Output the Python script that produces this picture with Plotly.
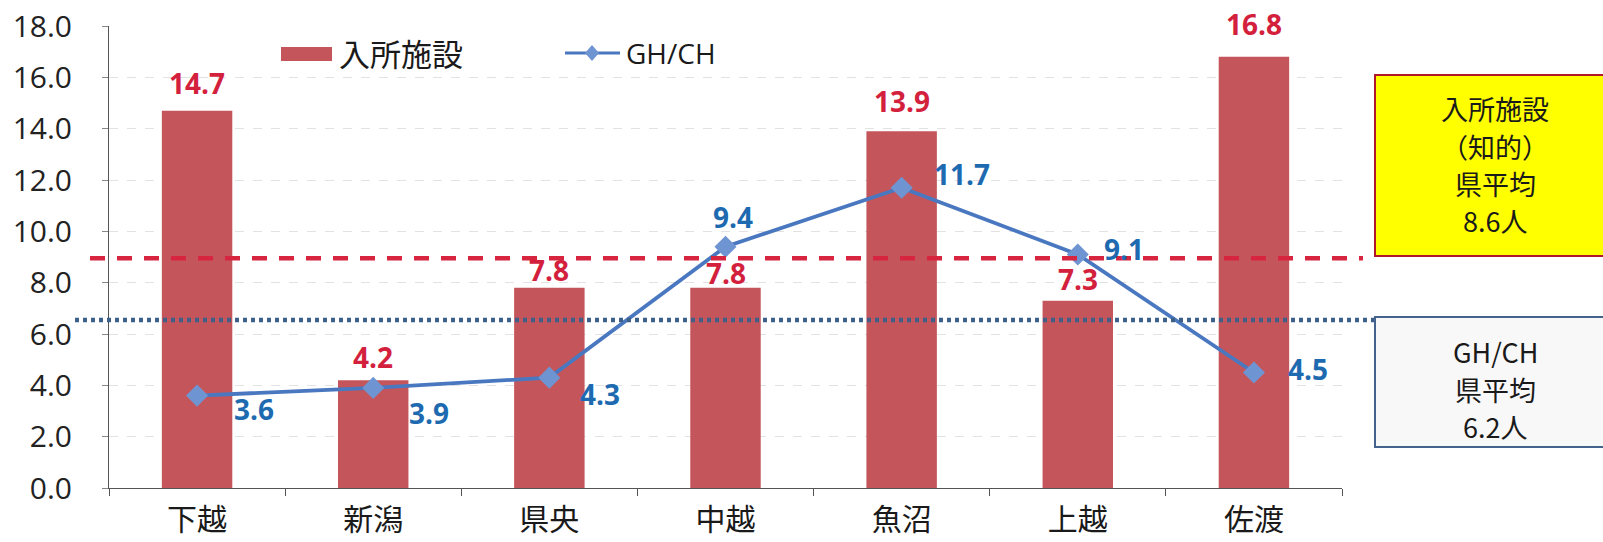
import plotly.graph_objects as go

# ---------------- data ----------------
regions = ["下越", "新潟", "県央", "中越", "魚沼", "上越", "佐渡"]
facility = [14.7, 4.2, 7.8, 7.8, 13.9, 7.3, 16.8]      # 入所施設
ghch = [3.6, 3.9, 4.3, 9.4, 11.7, 9.1, 4.5]            # GH/CH
facility_box_lines = ["入所施設", "（知的）", "県平均", "8.6人"]
ghch_box_lines = ["GH/CH", "県平均", "6.2人"]
# where the two average lines sit on the value axis in the picture
facility_line_level = 8.95
ghch_line_level = 6.55
y_ticks = [0, 2, 4, 6, 8, 10, 12, 14, 16, 18]

# ---------------- styling / label nudges (pixels) ----------------
red_label_up = [28, 23, 18, 15, 30, 22, 33]
blue_label_dx = [57, 56, 51, 7, 60, 46, 54]
blue_label_dy = [13, 25, 16, -30, -14, -5, -4]   # positive = downward
facility_box_line_y = [109, 146, 183, 220]
ghch_box_line_y = [351, 389, 426]

W, H = 1603, 542
L, R, T, B = 109, 1603 - 1342, 26, 542 - 488
PW, PH = W - L - R, H - T - B


def px_x(p):
    return (p - L) / PW


def px_y(p):
    return (H - B - p) / PH


BAR_COLOR = "#C4565B"
LINE_COLOR = "#4A78C0"
MARKER_COLOR = "#6F94D2"
RED_TEXT = "#D3213D"
BLUE_TEXT = "#1E6AB0"
NUM_FONT = "Open Sans"
JP_FONT = "Noto Sans CJK JP"

fig = go.Figure()
fig.add_trace(go.Bar(
    x=regions, y=facility, name="入所施設",
    marker=dict(color=BAR_COLOR, line=dict(width=0)),
    width=0.4, showlegend=False, hoverinfo="x+y",
))
fig.add_trace(go.Scatter(
    x=regions, y=ghch, name="GH/CH", mode="lines+markers",
    line=dict(color=LINE_COLOR, width=3.8),
    marker=dict(symbol="diamond", size=17, color=MARKER_COLOR,
                line=dict(width=0)),
    showlegend=False,
))

annotations = []
for i, (r, v) in enumerate(zip(regions, facility)):
    annotations.append(dict(
        x=r, y=v, xref="x", yref="y", text=f"<b>{v:.1f}</b>",
        showarrow=False, xanchor="center", yanchor="middle",
        yshift=red_label_up[i],
        font=dict(family=NUM_FONT, size=28, color=RED_TEXT),
    ))
for i, (r, v) in enumerate(zip(regions, ghch)):
    annotations.append(dict(
        x=r, y=v, xref="x", yref="y", text=f"<b>{v:.1f}</b>",
        showarrow=False, xanchor="center", yanchor="middle",
        xshift=blue_label_dx[i], yshift=-blue_label_dy[i],
        font=dict(family=NUM_FONT, size=28, color=BLUE_TEXT),
    ))

# legend (manual)
annotations.append(dict(
    x=px_x(337), y=px_y(53), xref="paper", yref="paper", text="入所施設",
    showarrow=False, xanchor="left", yanchor="middle",
    font=dict(family=JP_FONT, size=31, color="#1a1a1a"),
))
annotations.append(dict(
    x=px_x(624), y=px_y(53), xref="paper", yref="paper", text="GH/CH",
    showarrow=False, xanchor="left", yanchor="middle",
    font=dict(family=NUM_FONT, size=28, color="#1a1a1a"),
))

# right side boxes text, one annotation per line
for txt, yy in zip(facility_box_lines, facility_box_line_y):
    annotations.append(dict(
        x=px_x(1495), y=px_y(yy), xref="paper", yref="paper", text=txt,
        showarrow=False, xanchor="center", yanchor="middle",
        font=dict(family=JP_FONT, size=27, color="#1a1a1a"),
    ))
for txt, yy in zip(ghch_box_lines, ghch_box_line_y):
    annotations.append(dict(
        x=px_x(1495), y=px_y(yy), xref="paper", yref="paper", text=txt,
        showarrow=False, xanchor="center", yanchor="middle",
        font=dict(family=JP_FONT, size=27, color="#1a1a1a"),
    ))

dx = 7 / PW
dy = 8 / PH
cx, cy = px_x(592), px_y(53)
shapes = [
    # average lines
    dict(type="line", xref="paper", yref="y", x0=px_x(90), x1=px_x(1363),
         y0=facility_line_level, y1=facility_line_level,
         line=dict(color="#D7243F", width=4.5, dash="15px,12px")),
    dict(type="line", xref="paper", yref="y", x0=px_x(75), x1=px_x(1375),
         y0=ghch_line_level, y1=ghch_line_level,
         line=dict(color="#3E5F88", width=4.5, dash="4px,4px")),
    # boxes
    dict(type="rect", xref="paper", yref="paper", x0=px_x(1375), x1=px_x(1612),
         y0=px_y(256), y1=px_y(75), fillcolor="#FFFF00",
         line=dict(color="#B0182A", width=2)),
    dict(type="rect", xref="paper", yref="paper", x0=px_x(1375), x1=px_x(1612),
         y0=px_y(447), y1=px_y(317), fillcolor="#F8F8F8",
         line=dict(color="#44648E", width=2)),
    # legend symbols
    dict(type="rect", xref="paper", yref="paper", x0=px_x(281), x1=px_x(332),
         y0=px_y(61), y1=px_y(47), fillcolor=BAR_COLOR, line=dict(width=0)),
    dict(type="line", xref="paper", yref="paper", x0=px_x(565), x1=px_x(620),
         y0=cy, y1=cy, line=dict(color=LINE_COLOR, width=3)),
    dict(type="path", xref="paper", yref="paper",
         path=f"M {cx-dx},{cy} L {cx},{cy+dy} L {cx+dx},{cy} L {cx},{cy-dy} Z",
         fillcolor=MARKER_COLOR, line=dict(width=0)),
]

fig.update_layout(
    width=W, height=H,
    margin=dict(l=L, r=R, t=T, b=B, pad=0, autoexpand=False),
    paper_bgcolor="white", plot_bgcolor="white",
    bargap=0.6,
    annotations=annotations, shapes=shapes,
    showlegend=False,
)
fig.update_xaxes(
    type="category", categoryorder="array", categoryarray=regions,
    automargin=False,
    showline=True, linecolor="#555555", linewidth=1,
    ticks="outside", tickson="boundaries", ticklen=7, tickcolor="#555555",
    tickfont=dict(family=JP_FONT, size=30, color="#1a1a1a"),
    ticklabelstandoff=5, showgrid=False,
)
fig.update_yaxes(
    range=[0, 18], tickvals=y_ticks, tickformat=".1f",
    automargin=False,
    showline=True, linecolor="#555555", linewidth=1,
    ticks="outside", ticklen=6, tickcolor="#888888",
    tickfont=dict(family=NUM_FONT, size=30, color="#222222"),
    ticklabelstandoff=24,
    showgrid=True, gridcolor="#E2E2E2", gridwidth=1, griddash="dash",
    zeroline=False,
)

fig.write_html(
    "out.html",
    config={"displayModeBar": False},
    post_script="document.body.style.margin='0';document.body.style.overflow='hidden';",
)
